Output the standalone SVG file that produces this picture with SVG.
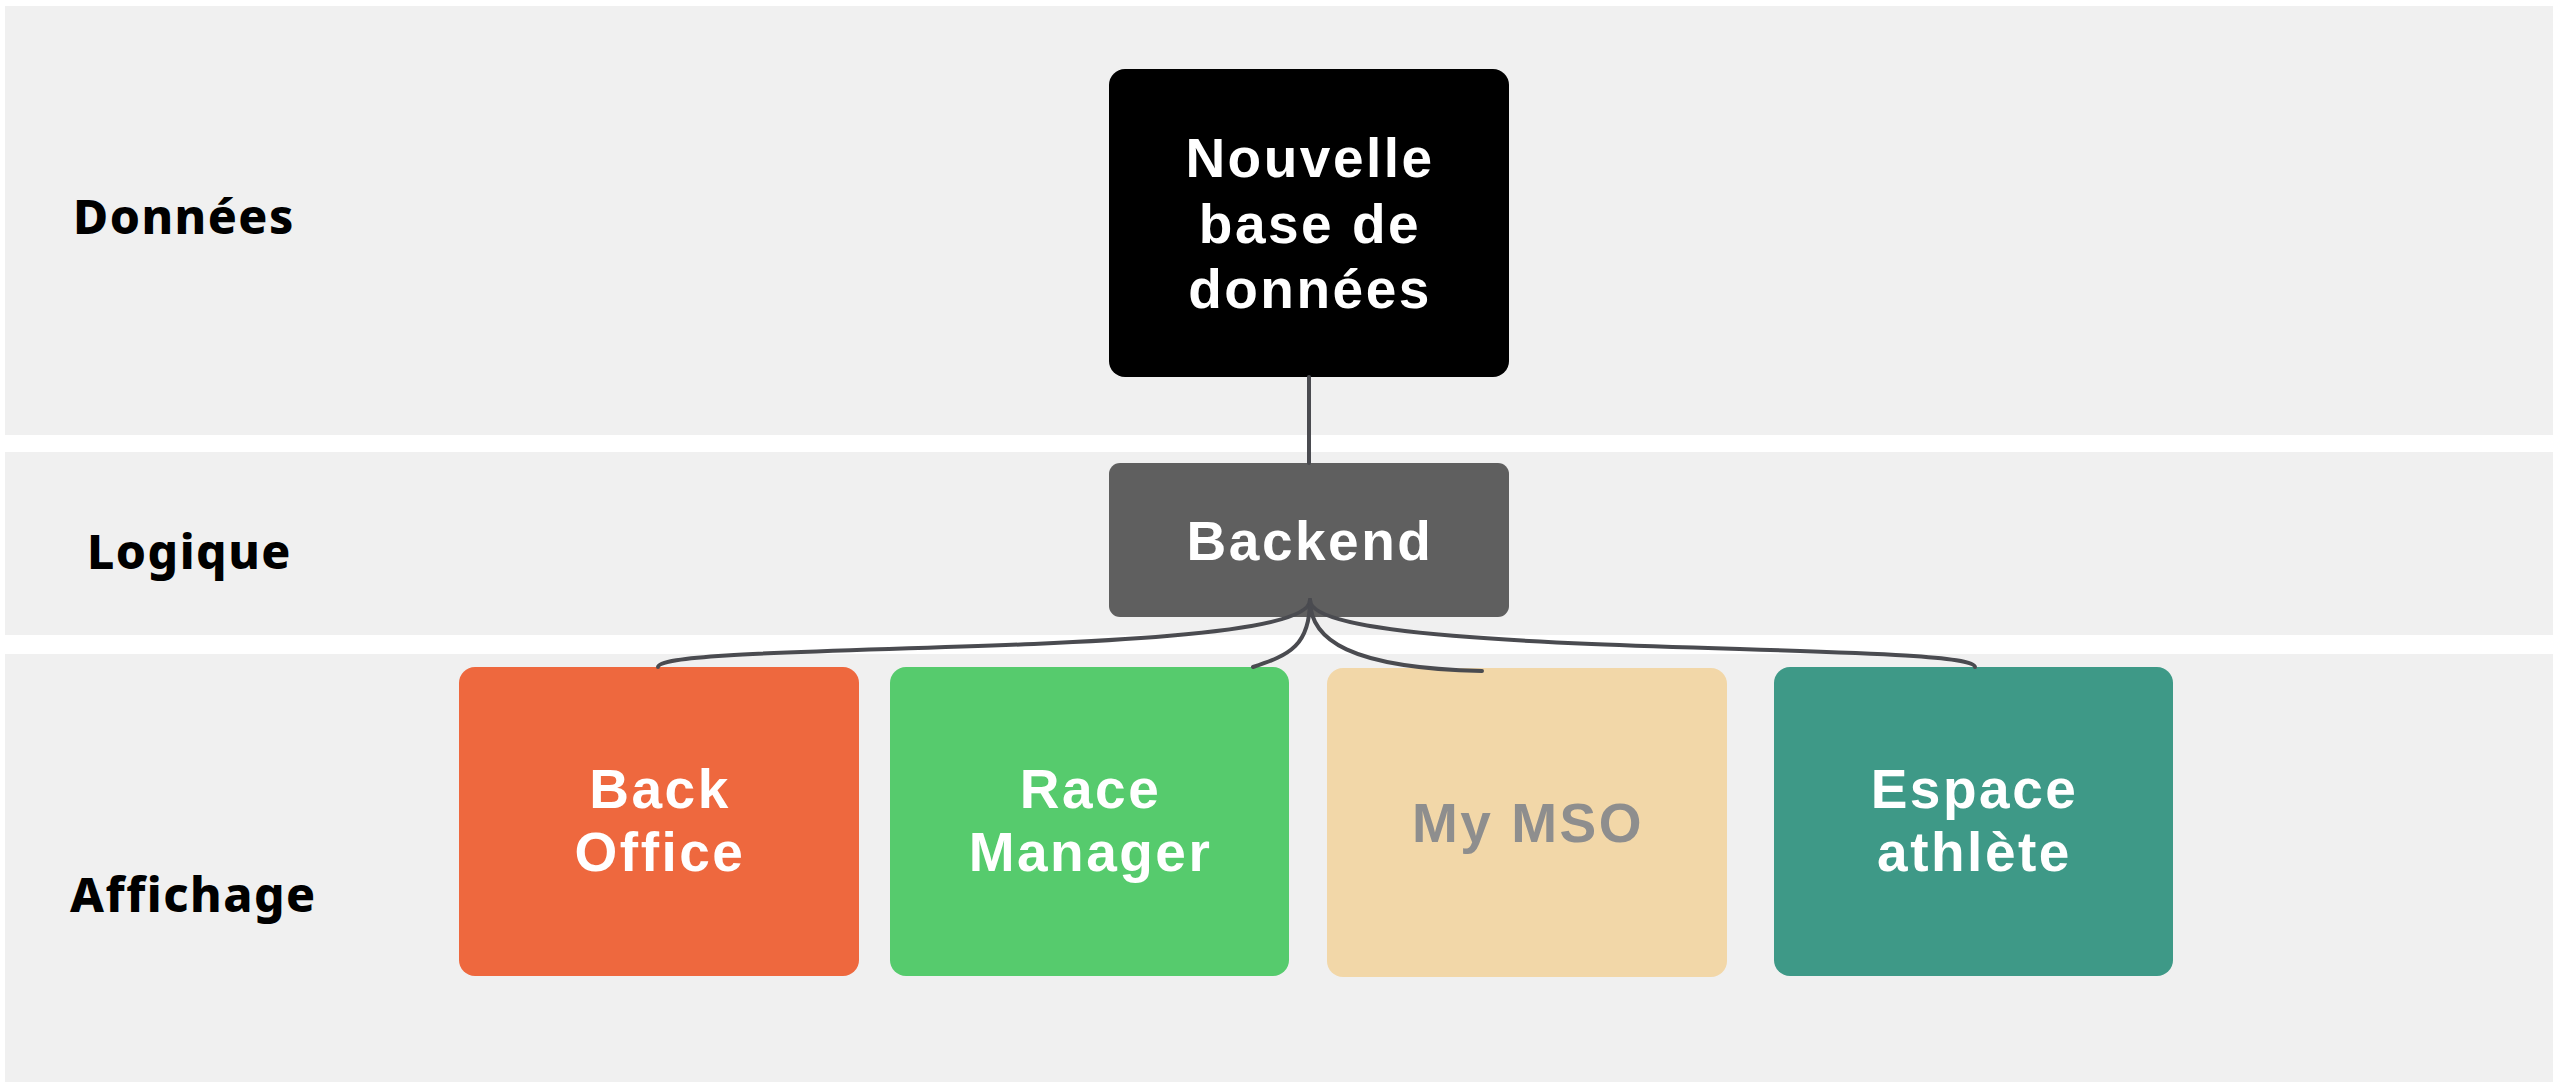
<svg xmlns="http://www.w3.org/2000/svg" width="2560" height="1089" viewBox="0 0 2560 1089">
  <style>
    .lane { fill: #f0f0f0; }
    .lanelabel { font-family: "Noto Sans", "Open Sans", sans-serif; font-weight: 800; font-size: 48px; fill: #000000; letter-spacing: 1.5px; }
    .nodetext { font-family: "Liberation Sans", Arial, sans-serif; font-weight: 700; font-size: 55px; fill: #ffffff; text-anchor: middle; letter-spacing: 2.5px; }
    .conn { fill: none; stroke: #4a4b50; stroke-width: 4; stroke-linecap: round; }
  </style>
  <rect x="0" y="0" width="2560" height="1089" fill="#ffffff"/>
  <g id="lanes">
    <g id="lane-donnees">
      <rect class="lane" x="5" y="6" width="2548" height="429"/>
      <text class="lanelabel" x="73" y="234">Données</text>
    </g>
    <g id="lane-logique">
      <rect class="lane" x="5" y="452" width="2548" height="183"/>
      <text class="lanelabel" x="87" y="569">Logique</text>
    </g>
    <g id="lane-affichage">
      <rect class="lane" x="5" y="654" width="2548" height="428"/>
      <text class="lanelabel" x="70" y="912">Affichage</text>
    </g>
  </g>
  <g id="nodes">
    <g id="node-db">
      <rect x="1109" y="69" width="400" height="308" rx="16" fill="#000000"/>
      <text class="nodetext" x="1310" y="177">Nouvelle</text>
      <text class="nodetext" x="1310" y="243">base de</text>
      <text class="nodetext" x="1310" y="308">données</text>
    </g>
    <g id="node-backend">
      <rect x="1109" y="463" width="400" height="154" rx="11" fill="#5f5f5f"/>
      <text class="nodetext" x="1310" y="560">Backend</text>
    </g>
    <g id="node-backoffice">
      <rect x="459" y="667" width="400" height="309" rx="16" fill="#ee683e"/>
      <text class="nodetext" x="660" y="808">Back</text>
      <text class="nodetext" x="660" y="871">Office</text>
    </g>
    <g id="node-racemanager">
      <rect x="890" y="667" width="399" height="309" rx="16" fill="#56cb6d"/>
      <text class="nodetext" x="1090.5" y="808">Race</text>
      <text class="nodetext" x="1090.5" y="871">Manager</text>
    </g>
    <g id="node-mymso">
      <rect x="1327" y="668" width="400" height="309" rx="16" fill="#f2d7a8"/>
      <text class="nodetext" x="1528" y="842" style="fill:#8e8e8e">My MSO</text>
    </g>
    <g id="node-espace">
      <rect x="1774" y="667" width="399" height="309" rx="16" fill="#3e9987"/>
      <text class="nodetext" x="1974.5" y="808">Espace</text>
      <text class="nodetext" x="1974.5" y="871">athlète</text>
    </g>
  </g>
  <g id="connectors">
    <path class="conn" d="M1309 377 V463"/>
    <path class="conn" d="M1310 600 C1310 660, 658 640, 658 667"/>
    <path class="conn" d="M1310 600 C1310 645, 1290 655, 1253 667"/>
    <path class="conn" d="M1310 600 C1310 640, 1350 668, 1482 671"/>
    <path class="conn" d="M1310 600 C1310 660, 1975 640, 1975 667"/>
  </g>
</svg>
